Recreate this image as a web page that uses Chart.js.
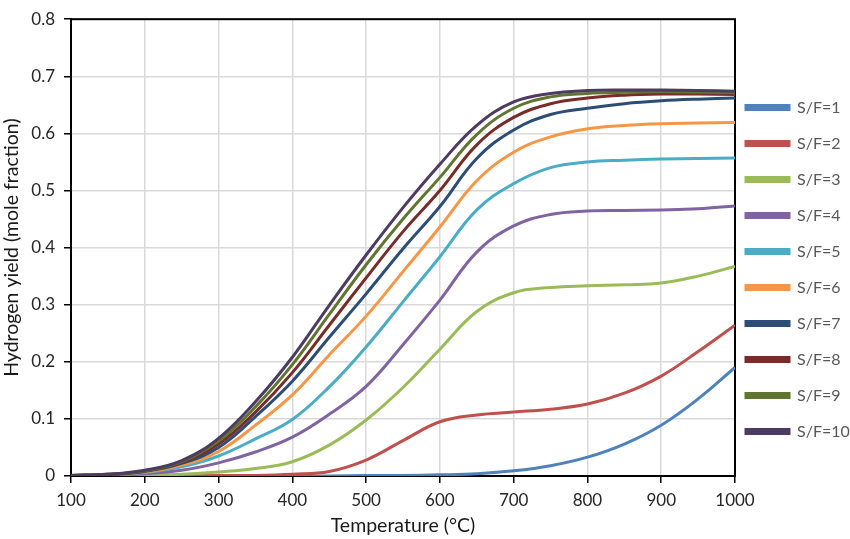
<!DOCTYPE html>
<html>
<head>
<meta charset="utf-8">
<script src="https://cdn.jsdelivr.net/npm/chart.js@4/dist/chart.umd.min.js"></script>
<style>
  html, body { margin: 0; padding: 0; background: #fff; }
  #wrap { width: 850px; height: 539px; }
</style>
</head>
<body>
<div id="wrap"><canvas id="h2Chart"></canvas></div>
<script>
// temperature (°C)
const temps = [100, 150, 200, 250, 300, 350, 400, 450, 500, 550, 600, 650, 700, 750, 800, 850, 900, 950, 1000];

// hydrogen yield (mole fraction) per steam/feed ratio
const sf1  = [0, 0, 0, 0, 0, 0, 0, 0, 0.001, 0.001, 0.002, 0.004, 0.009, 0.018, 0.033, 0.056, 0.089, 0.135, 0.190];
const sf2  = [0, 0, 0, 0, 0.001, 0.001, 0.003, 0.008, 0.028, 0.062, 0.095, 0.107, 0.112, 0.117, 0.126, 0.145, 0.175, 0.218, 0.264];
const sf3  = [0, 0, 0.001, 0.003, 0.007, 0.013, 0.025, 0.054, 0.098, 0.155, 0.222, 0.288, 0.321, 0.330, 0.333, 0.335, 0.338, 0.350, 0.367];
const sf4  = [0, 0.001, 0.004, 0.010, 0.023, 0.042, 0.068, 0.108, 0.157, 0.230, 0.308, 0.392, 0.438, 0.458, 0.464, 0.465, 0.466, 0.468, 0.473];
const sf5  = [0.001, 0.002, 0.006, 0.016, 0.035, 0.065, 0.099, 0.156, 0.226, 0.305, 0.384, 0.466, 0.512, 0.540, 0.550, 0.553, 0.555, 0.556, 0.557];
const sf6  = [0.001, 0.002, 0.007, 0.019, 0.043, 0.089, 0.142, 0.212, 0.280, 0.358, 0.436, 0.517, 0.567, 0.594, 0.608, 0.614, 0.617, 0.618, 0.619];
const sf7  = [0.001, 0.002, 0.008, 0.022, 0.050, 0.104, 0.166, 0.243, 0.319, 0.398, 0.472, 0.556, 0.606, 0.633, 0.644, 0.652, 0.657, 0.660, 0.662];
const sf8  = [0.001, 0.003, 0.009, 0.024, 0.056, 0.112, 0.181, 0.264, 0.347, 0.428, 0.500, 0.580, 0.628, 0.652, 0.662, 0.667, 0.669, 0.669, 0.668];
const sf9  = [0.001, 0.003, 0.009, 0.025, 0.061, 0.121, 0.195, 0.283, 0.370, 0.450, 0.523, 0.598, 0.644, 0.664, 0.670, 0.672, 0.673, 0.672, 0.671];
const sf10 = [0.001, 0.003, 0.010, 0.027, 0.066, 0.130, 0.208, 0.299, 0.387, 0.470, 0.546, 0.614, 0.655, 0.670, 0.675, 0.676, 0.676, 0.675, 0.674];

const seriesNames = ['S/F=1', 'S/F=2', 'S/F=3', 'S/F=4', 'S/F=5', 'S/F=6', 'S/F=7', 'S/F=8', 'S/F=9', 'S/F=10'];
const seriesValues = [sf1, sf2, sf3, sf4, sf5, sf6, sf7, sf8, sf9, sf10];
const seriesColors = ['#4F81BD', '#C0504D', '#9BBB59', '#8064A2', '#4BACC6', '#F79646', '#2C4D75', '#772C2A', '#5F7530', '#4D3B62'];

const FONT = 'Lato, "Open Sans", sans-serif';

const datasets = seriesNames.map((name, i) => ({
    label: name,
    data: temps.map((t, j) => ({ x: t, y: seriesValues[i][j] })),
    borderColor: seriesColors[i],
    backgroundColor: seriesColors[i],
    borderWidth: 3,
    pointRadius: 0,
    tension: 0.4,
    order: seriesNames.length - i
}));

// frame around plot area + nudge the legend like Excel does
const framePlugin = {
    id: 'frame',
    afterLayout(chart) {
        const lg = chart.legend;
        lg.left -= 9;
        lg.top = 0;
        lg.bottom = chart.height;
    },
    beforeDatasetsDraw(chart) {
        const { ctx, chartArea: a } = chart;
        ctx.save();
        ctx.strokeStyle = '#000';
        ctx.lineWidth = 2;
        ctx.strokeRect(a.left, a.top, a.right - a.left, a.bottom - a.top);
        ctx.restore();
    }
};

const ctx = document.getElementById('h2Chart').getContext('2d');
const h2Chart = new Chart(ctx, {
    type: 'line',
    data: { datasets: datasets },
    plugins: [framePlugin],
    options: {
        responsive: true,
        maintainAspectRatio: false,
        animation: false,
        layout: { padding: { top: 10, left: 0, right: 0, bottom: 0 } },
        plugins: {
            tooltip: { enabled: false },
            legend: {
                position: 'right',
                maxWidth: 115,
                labels: {
                    boxWidth: 43,
                    boxHeight: 4,
                    padding: 20,
                    color: '#595959',
                    font: { family: FONT, size: 16 },
                    sort: (a, b) => a.datasetIndex - b.datasetIndex
                }
            }
        },
        scales: {
            x: {
                type: 'linear',
                min: 100,
                max: 1000,
                afterFit: s => { s.height = 63; },
                ticks: { stepSize: 100, color: '#262626', padding: 7, font: { family: FONT, size: 17 }, callback: v => String(v) },
                grid: { color: '#d9d9d9', lineWidth: 1.5, tickColor: '#000', tickLength: 7, tickWidth: 1.5 },
                border: { color: '#000', width: 2 },
                title: { display: true, text: 'Temperature (°C)', color: '#1a1a1a', padding: { top: 0, bottom: 2 }, font: { family: FONT, size: 19.5 } }
            },
            y: {
                min: 0,
                max: 0.8,
                afterFit: s => { s.width = 71; },
                ticks: { stepSize: 0.1, color: '#262626', padding: 9, font: { family: FONT, size: 17 } },
                grid: { color: '#d9d9d9', lineWidth: 1.5, tickColor: '#000', tickLength: 7, tickWidth: 1.5 },
                border: { color: '#000', width: 2 },
                title: { display: true, text: 'Hydrogen yield (mole fraction)', color: '#1a1a1a', padding: 0, font: { family: FONT, size: 19.5 } }
            }
        }
    }
});
</script>
</body>
</html>
